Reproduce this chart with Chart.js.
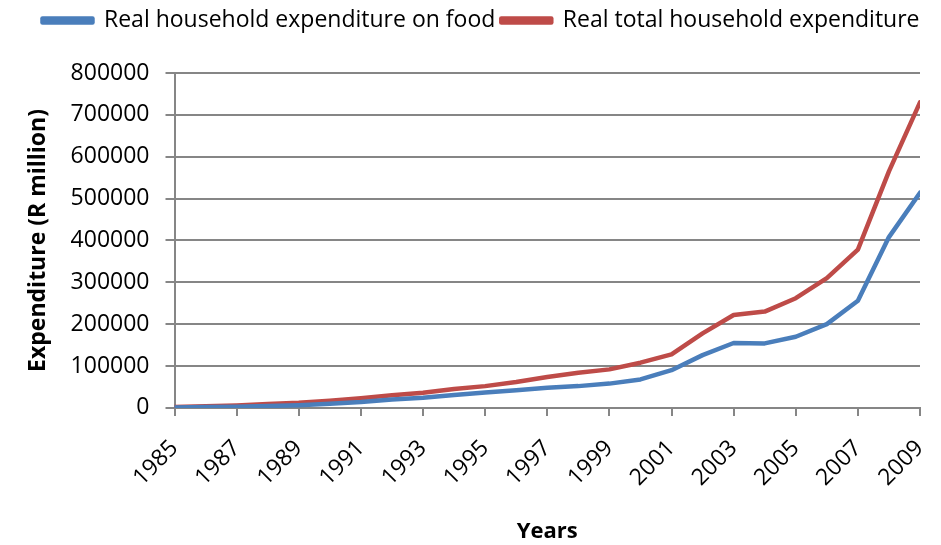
<!DOCTYPE html>
<html>
<head>
<meta charset="utf-8">
<script src="https://cdn.jsdelivr.net/npm/chart.js@4.4.1/dist/chart.umd.min.js"></script>
<style>
  html, body { margin: 0; padding: 0; background: #fff; }
  #wrap { width: 941px; height: 545px; }
</style>
</head>
<body>
<div id="wrap"><canvas id="chart"></canvas></div>
<script>
// Years on the x axis
const years = [1985, 1986, 1987, 1988, 1989, 1990, 1991, 1992, 1993, 1994, 1995, 1996,
  1997, 1998, 1999, 2000, 2001, 2002, 2003, 2004, 2005, 2006, 2007, 2008, 2009];

// Real household expenditure on food (R million)
const foodSpend = [1000, 2000, 3000, 4500, 6500, 10000, 14000, 20000, 24000, 31000, 37000, 42000,
  48000, 52000, 58000, 68000, 90000, 126000, 155000, 154000, 170000, 200000, 256000, 408000, 514000];

// Real total household expenditure (R million)
const totalSpend = [2000, 4000, 6000, 9000, 12000, 17000, 23000, 30000, 36000, 45000, 52000, 62000,
  74000, 84000, 92000, 108000, 128000, 178000, 222000, 230000, 262000, 310000, 378000, 565000, 730000];

const seriesNames = ['Real household expenditure on food', 'Real total household expenditure'];
const seriesColors = ['#4a7ebb', '#be4b48'];

const fontFamily = "'Open Sans', sans-serif";
const gridColor = '#868686';

function toPoints(values) {
  return years.map((yr, i) => ({ x: yr, y: values[i] }));
}

function lineDataset(i, values) {
  return {
    label: seriesNames[i],
    data: toPoints(values),
    borderColor: seriesColors[i],
    backgroundColor: seriesColors[i],
    borderWidth: 4.5,
    borderJoinStyle: 'round',
    borderCapStyle: 'round',
    pointRadius: 0,
    tension: 0
  };
}

// Put the legend back at the very top and nudge it right, like the original
const legendShift = {
  id: 'legendShift',
  afterLayout(chart) {
    const lg = chart.legend;
    const h = lg.bottom - lg.top;
    lg.top = 3;
    lg.bottom = 3 + h;
    lg.left += 21;
    lg.right += 21;
  }
};

new Chart(document.getElementById('chart'), {
  type: 'line',
  data: {
    datasets: [lineDataset(0, foodSpend), lineDataset(1, totalSpend)]
  },
  plugins: [legendShift],
  options: {
    responsive: true,
    maintainAspectRatio: false,
    animation: false,
    layout: { padding: { left: 0, right: 21, top: 0, bottom: 0 } },
    plugins: {
      legend: {
        display: true,
        position: 'top',
        labels: {
          boxWidth: 50,
          boxHeight: 4,
          padding: 6,
          color: '#000',
          font: { family: fontFamily, size: 23 }
        }
      },
      tooltip: { enabled: false }
    },
    scales: {
      x: {
        type: 'linear',
        min: 1985,
        max: 2009,
        afterFit: (scale) => { scale.paddingRight = 0; },
        ticks: {
          stepSize: 2,
          color: '#000',
          padding: 19,
          maxRotation: 45,
          minRotation: 45,
          font: { family: fontFamily, size: 23 },
          callback: (v) => String(v)
        },
        grid: {
          drawOnChartArea: false,
          color: gridColor,
          lineWidth: 2,
          tickLength: 8
        },
        border: { color: gridColor, width: 2 },
        title: {
          display: true,
          text: 'Years',
          color: '#000',
          font: { family: fontFamily, size: 22, weight: 'bold' },
          padding: { top: 8, bottom: 0 }
        }
      },
      y: {
        min: 0,
        max: 800000,
        // keep the plot top where the original has it
        afterFit: (scale) => { scale.paddingTop = 73; },
        ticks: {
          stepSize: 100000,
          color: '#000',
          padding: 16,
          font: { family: fontFamily, size: 23 },
          callback: (v) => String(v)
        },
        grid: {
          color: gridColor,
          lineWidth: 2,
          tickLength: 9
        },
        border: { color: gridColor, width: 2 },
        title: {
          display: true,
          text: 'Expenditure (R million)',
          color: '#000',
          font: { family: fontFamily, size: 23, weight: 'bold' },
          padding: { top: 25, bottom: 2 }
        }
      }
    }
  }
});
</script>
</body>
</html>
